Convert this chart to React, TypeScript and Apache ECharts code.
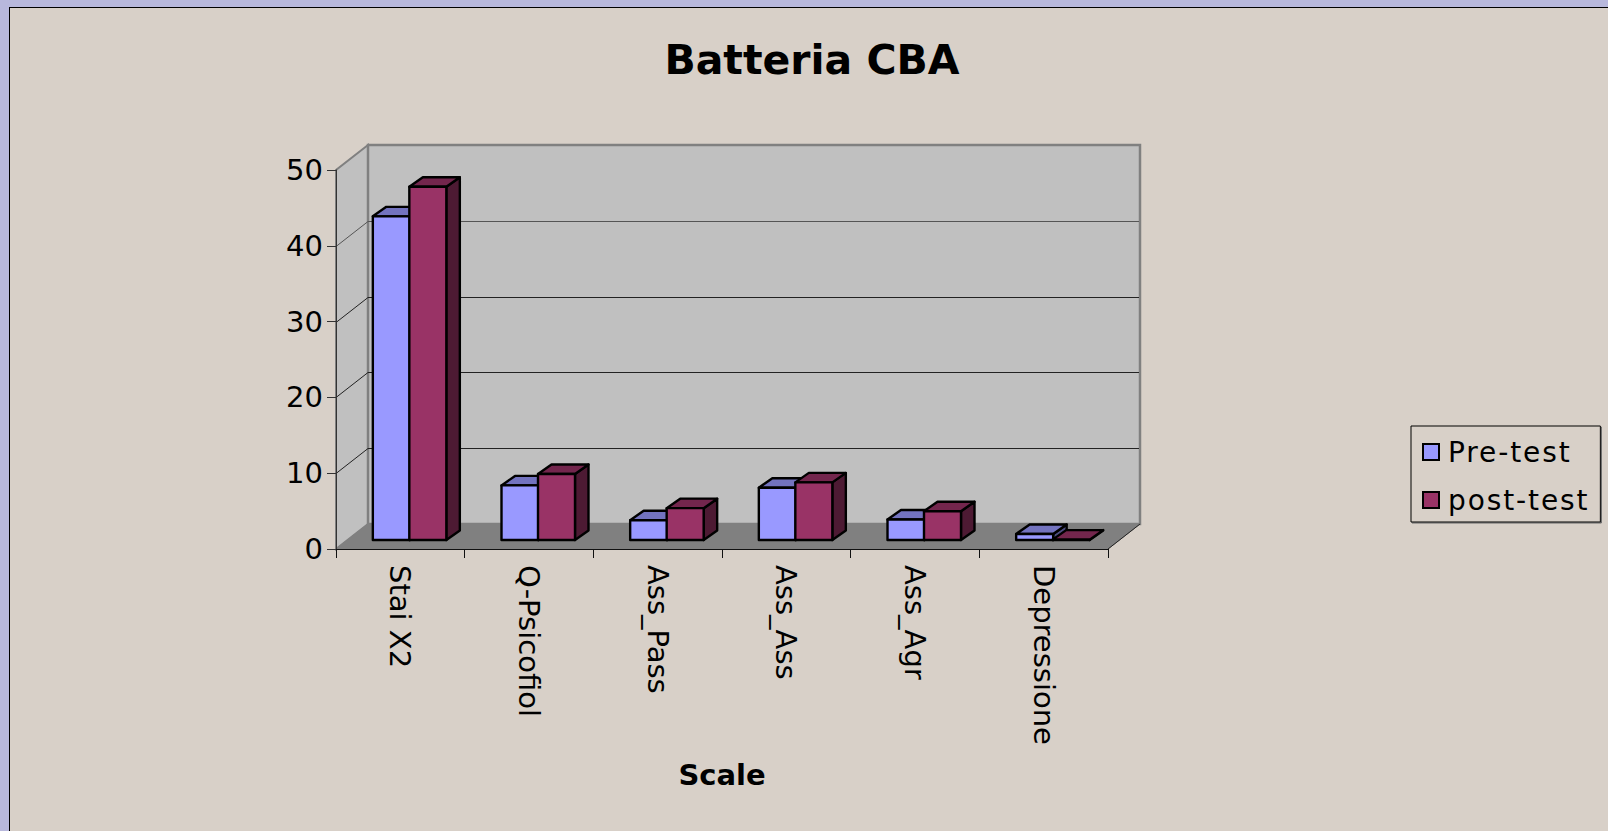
import React, { useEffect, useRef } from "react";
import * as echarts from "echarts";

const categories = ["Stai X2", "Q-Psicofiol", "Ass_Pass", "Ass_Ass", "Ass_Agr", "Depressione"];
const preTest = [42.7, 7.2, 2.6, 6.9, 2.7, 0.8];
const postTest = [46.6, 8.7, 4.2, 7.6, 3.8, 0.05];
const yTicks = [0, 10, 20, 30, 40, 50];
const legendNames = ["Pre-test", "post-test"];

const FONT = "'DejaVu Sans', sans-serif";
const WALL_DX = 32;
const WALL_DY = 25;
const BAR_SHIFT_X = 10;
const BAR_SHIFT_Y = 9;
const BAR_W = 37;
const BAR_DX = 13.5;
const BAR_DY = 9.5;

function wallItem(params: any, api: any) {
  const v = api.value(0);
  const x0 = params.coordSys.x;
  const x1 = x0 + params.coordSys.width;
  const y = Math.round(api.coord([0, v])[1]) + 0.5;
  const yBack = Math.round(y - WALL_DY) - 0.5;
  const children: any[] = [];
  if (v === 0) {
    const top = params.coordSys.y;
    const h = params.coordSys.height;
    children.push(
      {
        type: "polygon",
        shape: { points: [[x0, top + h], [x0, top], [x0 + WALL_DX, top - WALL_DY], [x0 + WALL_DX, top + h - WALL_DY]] },
        style: { fill: "#c0c0c0", stroke: "#808080", lineWidth: 2 },
      },
      {
        type: "rect",
        shape: { x: x0 + WALL_DX, y: top - WALL_DY, width: params.coordSys.width, height: h },
        style: { fill: "#c0c0c0", stroke: "#808080", lineWidth: 2.5 },
      },
      {
        type: "polygon",
        shape: { points: [[x0, top + h], [x0 + WALL_DX, top + h - WALL_DY], [x1 + WALL_DX, top + h - WALL_DY], [x1, top + h]] },
        style: { fill: "#808080", stroke: "#808080", lineWidth: 1 },
      },
      {
        type: "line",
        shape: { x1, y1: top + h, x2: x1 + WALL_DX, y2: top + h - WALL_DY },
        style: { stroke: "#222222", lineWidth: 1 },
      }
    );
  } else if (v < 50) {
    children.push({
      type: "polyline",
      shape: { points: [[x0, y], [x0 + WALL_DX, yBack], [x1 + WALL_DX - 1, yBack]] },
      style: { fill: "none", stroke: v === 40 ? "#555555" : "#222222", lineWidth: 1 },
    });
  }
  return { type: "group", children };
}

function barItem(offset: number, front: string, top: string, side: string) {
  return (_params: any, api: any) => {
    const cat = api.value(0);
    const val = api.value(1);
    const base = api.coord([cat, 0]);
    const head = api.coord([cat, val]);
    const xL = base[0] + offset + BAR_SHIFT_X;
    const xR = xL + BAR_W;
    const yB = base[1] - BAR_SHIFT_Y;
    const yT = head[1] - BAR_SHIFT_Y;
    const stroke = { stroke: "#000000", lineWidth: 2.4, lineJoin: "round" };
    return {
      type: "group",
      children: [
        {
          type: "polygon",
          shape: { points: [[xR, yT], [xR + BAR_DX, yT - BAR_DY], [xR + BAR_DX, yB - BAR_DY], [xR, yB]] },
          style: { fill: side, ...stroke },
        },
        {
          type: "polygon",
          shape: { points: [[xL, yT], [xL + BAR_DX, yT - BAR_DY], [xR + BAR_DX, yT - BAR_DY], [xR, yT]] },
          style: { fill: top, ...stroke },
        },
        {
          type: "rect",
          shape: { x: xL, y: yT, width: BAR_W, height: yB - yT },
          style: { fill: front, ...stroke },
        },
      ],
    };
  };
}

export default function App() {
  const ref = useRef<HTMLDivElement>(null);
  useEffect(() => {
    const chart = echarts.init(ref.current!, undefined, { renderer: "svg" });
    chart.setOption({
      animation: false,
      backgroundColor: "transparent",
      textStyle: { fontFamily: FONT },
      title: {
        text: "Batteria CBA",
        left: 807,
        top: 34,
        textAlign: "center",
        textStyle: { fontFamily: FONT, fontWeight: "bold", fontSize: 41, color: "#000000" },
      },
      grid: { left: 336, right: 500, top: 170, bottom: 282, containLabel: false },
      xAxis: {
        type: "category",
        data: categories,
        z: 5,
        axisLine: { lineStyle: { color: "#111111", width: 1 } },
        axisTick: { show: true, length: 9, lineStyle: { color: "#111111" } },
        axisLabel: { rotate: -90, margin: 16, fontSize: 29, color: "#000000", fontFamily: FONT },
        name: "Scale",
        nameLocation: "middle",
        nameGap: 211,
        nameTextStyle: { fontFamily: FONT, fontWeight: "bold", fontSize: 29, color: "#000000" },
      },
      yAxis: {
        type: "value",
        min: 0,
        max: 50,
        interval: 10,
        z: 5,
        axisLine: { show: true, lineStyle: { color: "#333333", width: 1 } },
        axisTick: { show: true, length: 9, lineStyle: { color: "#333333" } },
        axisLabel: { margin: 13, fontSize: 29, color: "#000000", fontFamily: FONT, padding: [7, 0, 0, 0] },
        splitLine: { show: false },
      },
      legend: {
        left: 1411,
        top: 426,
        orient: "vertical",
        data: legendNames,
        icon: "rect",
        itemWidth: 16,
        itemHeight: 16,
        itemGap: 20,
        padding: [12, 28, 8, 11],
        backgroundColor: "#d8d0c8",
        borderColor: "#000000",
        borderWidth: 1,
        shadowColor: "#666666",
        shadowBlur: 0,
        shadowOffsetX: 1,
        shadowOffsetY: 1,
        textStyle: { fontFamily: FONT, fontSize: 28, color: "#000000", padding: [0, 0, 0, 4] },
        itemStyle: { borderColor: "#000000", borderWidth: 2 },
      },
      series: [
        {
          type: "custom",
          name: "walls",
          z: 1,
          clip: false,
          silent: true,
          data: yTicks.map((v) => [v]),
          encode: { y: 0 },
          renderItem: wallItem,
        },
        {
          type: "custom",
          name: legendNames[0],
          z: 3,
          clip: false,
          itemStyle: { color: "#9999ff" },
          data: preTest.map((v, i) => [i, v]),
          encode: { x: 0, y: 1 },
          renderItem: barItem(-37.5, "#9999ff", "#7373bf", "#4d4d80"),
        },
        {
          type: "custom",
          name: legendNames[1],
          z: 4,
          clip: false,
          itemStyle: { color: "#993366" },
          data: postTest.map((v, i) => [i, v]),
          encode: { x: 0, y: 1 },
          renderItem: barItem(-1, "#993366", "#73264d", "#4d1a33"),
        },
      ],
    });
    ref.current!.querySelectorAll("text").forEach((t) => {
      if (legendNames.includes(t.textContent || "")) t.style.letterSpacing = "1.9px";
    });
    return () => chart.dispose();
  }, []);
  return (
    <div style={{ position: "fixed", left: 0, top: 0, width: 1608, height: 831, background: "#b8b8dc", overflow: "hidden" }}>
      <div
        style={{
          position: "absolute",
          left: 9,
          top: 7,
          width: 1599,
          height: 824,
          background: "#d8d0c8",
          borderLeft: "1px solid #000",
          borderTop: "1px solid #000",
          boxSizing: "border-box",
        }}
      />
      <div ref={ref} style={{ position: "absolute", left: 0, top: 0, width: 1608, height: 831 }} />
    </div>
  );
}
